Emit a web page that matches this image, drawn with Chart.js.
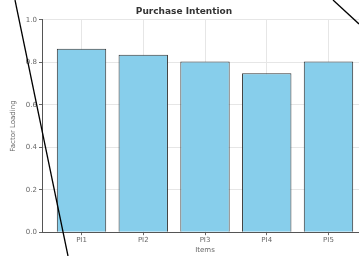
<!DOCTYPE html>
<html>
<head>
<meta charset="utf-8">
<script src="https://cdn.jsdelivr.net/npm/chart.js@4"></script>
<style>
  html, body { margin: 0; padding: 0; background: #fff; }
  #wrap { position: relative; width: 359px; height: 256px; overflow: hidden; }
  #box { position: absolute; left: 0; top: 0; width: 368px; height: 256px; }
  #over { position: absolute; left: 0; top: 0; pointer-events: none; }
</style>
</head>
<body>
<div id="wrap">
  <div id="box"><canvas id="chart"></canvas></div>
  <svg id="over" width="359" height="256">
    <line x1="15" y1="0" x2="68" y2="256" stroke="#000" stroke-width="1.3"/>
    <line x1="333" y1="0" x2="359" y2="24" stroke="#000" stroke-width="1.3"/>
  </svg>
</div>
<script>
const items = ['PI1', 'PI2', 'PI3', 'PI4', 'PI5'];
const loadings = [0.864, 0.836, 0.804, 0.748, 0.804];

const font = "'DejaVu Sans', sans-serif";
const ctx = document.getElementById('chart').getContext('2d');
const chart = new Chart(ctx, {
  type: 'bar',
  data: {
    datasets: [{
      data: loadings.map((v, i) => ({ x: i, y: v })),
      backgroundColor: '#87CEEB',
      borderColor: '#333',
      borderWidth: 1,
      barPercentage: 0.8,
      categoryPercentage: 1
    }]
  },
  options: {
    responsive: true,
    maintainAspectRatio: false,
    animation: false,
    layout: { padding: { top: 0, right: 0, bottom: 2, left: 0 } },
    plugins: {
      legend: { display: false },
      tooltip: { enabled: false },
      title: {
        display: true,
        text: 'Purchase Intention',
        color: '#333',
        font: { family: font, size: 9, weight: 'bold' },
        padding: { top: 6, bottom: 3 }
      }
    },
    scales: {
      x: {
        type: 'linear',
        min: -0.64,
        max: 4.64,
        offset: false,
        afterBuildTicks: axis => { axis.ticks = items.map((_, i) => ({ value: i })); },
        ticks: {
          callback: v => items[v],
          color: '#666',
          font: { family: font, size: 7 },
          padding: 1
        },
        grid: { offset: false, color: '#e6e6e6', drawTicks: true, tickLength: 3, tickColor: '#666' },
        border: { color: '#555', width: 1 },
        title: {
          display: true,
          text: 'Items',
          color: '#666',
          font: { family: font, size: 7 },
          padding: { top: 0, bottom: 0 }
        }
      },
      y: {
        min: 0,
        max: 1,
        ticks: {
          stepSize: 0.2,
          callback: v => v.toFixed(1),
          color: '#666',
          font: { family: font, size: 7 },
          padding: 2
        },
        grid: { color: '#e6e6e6', tickLength: 3, tickColor: '#666' },
        border: { color: '#555', width: 1 },
        title: {
          display: true,
          text: 'Factor Loading',
          color: '#666',
          font: { family: font, size: 7 },
          padding: { top: 9, bottom: 4 }
        },
        afterFit: axis => { axis.width = 42; }
      }
    }
  }
});
</script>
</body>
</html>
